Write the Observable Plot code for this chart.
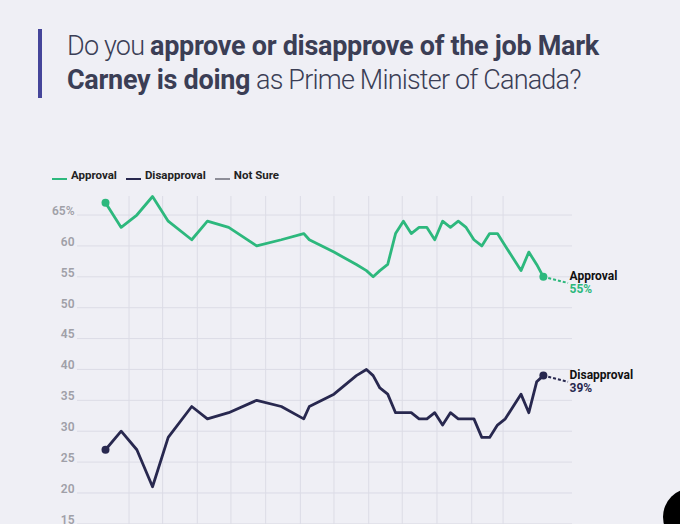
<!DOCTYPE html>
<html><head><meta charset="utf-8">
<script src="https://cdn.jsdelivr.net/npm/d3@7"></script>
<script src="https://cdn.jsdelivr.net/npm/@observablehq/plot@0.6"></script>
<style>
html,body{margin:0;padding:0;background:#efeff5;width:680px;height:524px;overflow:hidden;font-family:Roboto,sans-serif}
#title{position:absolute;left:38px;top:29px;border-left:4px solid #45459a;padding-left:25px;font-size:27px;line-height:34.3px;color:#3b3e55;font-weight:300;white-space:nowrap;letter-spacing:-0.8px}
#title b{font-weight:700;letter-spacing:-0.3px}
#legend{position:absolute;left:52px;top:167px;height:16px;display:flex;align-items:center;font-size:11.5px;font-weight:700;color:#222}
.item{display:flex;align-items:center;margin-right:9px}
.sw{width:15px;height:2.5px;margin-right:4px;margin-top:8px}
#chart{position:absolute;left:0;top:186px}
#fab{position:absolute;left:663px;top:488px;width:58px;height:58px;border-radius:50%;background:#000}
</style></head>
<body>
<div id="title">Do you <b>approve or disapprove of the job Mark<br>Carney is doing</b> as Prime Minister of Canada?</div>
<div id="legend"></div>
<div id="chart"></div>
<div id="fab"></div>
<script>
const dates = ["2025-03-11","2025-03-25","2025-04-08","2025-04-22","2025-05-06","2025-05-27","2025-06-10","2025-06-29","2025-07-24","2025-08-15","2025-09-04","2025-09-09","2025-10-01","2025-10-21","2025-10-30","2025-11-05","2025-11-11","2025-11-18","2025-11-25","2025-12-02","2025-12-09","2025-12-16","2025-12-23","2025-12-30","2026-01-06","2026-01-13","2026-01-20","2026-01-27","2026-02-03","2026-02-10","2026-02-17","2026-02-24","2026-03-03","2026-03-17","2026-03-24","2026-03-31","2026-04-06"];
const approval = [67,63,65,68,64,61,64,63,60,61,62,61,59,57,56,55,56,57,62,64,62,63,63,61,64,63,64,63,61,60,62,62,60,56,59,57,55];
const disapproval = [27,30,27,21,29,34,32,33,35,34,32,34,36,39,40,39,37,36,33,33,33,32,32,33,31,33,32,32,32,29,29,31,32,36,33,38,39];
const seriesNames = ["Approval","Disapproval","Not Sure"];
const seriesColors = ["#2db87d","#28284f","#8e8e98"];
const yTicks = [15,20,25,30,35,40,45,50,55,60,65];
const gridMonths = ["2025-04-01","2025-05-01","2025-06-01","2025-07-01","2025-08-01","2025-09-01","2025-10-01","2025-11-01","2025-12-01","2026-01-01","2026-02-01","2026-03-01"];
const xDomain = ["2025-02-14","2026-05-02"];
const labelDate = "2026-04-28";

// legend
const leg = document.getElementById("legend");
seriesNames.forEach((n,i)=>{
  const it = document.createElement("div"); it.className="item";
  const sw = document.createElement("div"); sw.className="sw"; sw.style.background=seriesColors[i];
  const t = document.createElement("span"); t.textContent=n;
  it.appendChild(sw); it.appendChild(t); leg.appendChild(it);
});

const series = [
  {name:"Approval", values:approval, color:seriesColors[0]},
  {name:"Disapproval", values:disapproval, color:seriesColors[1]}
];
const marks = [
  Plot.gridY(yTicks, {stroke:"#dcdce6", strokeOpacity:1, strokeWidth:1}),
  Plot.ruleX(gridMonths.map(d=>new Date(d)), {stroke:"#dcdce6", strokeWidth:1}),
  Plot.axisY(yTicks, {tickSize:0, tickPadding:3, dy:-4, fill:"#a0a0a8", fontSize:12, fontWeight:600, label:null, tickFormat:d=> d===65 ? "65%" : String(d)})
];
for (const s of series) {
  const data = dates.map((d,i)=>({date:new Date(d), value:s.values[i], series:s.name}));
  const first = data[0], last = data[data.length-1];
  marks.push(
    Plot.line(data, {x:"date", y:"value", stroke:s.color, strokeWidth:2.8, curve:"linear"}),
    Plot.link([last], {x1:"date", y1:"value", x2:()=>new Date(labelDate), y2:d=>d.value-1, stroke:s.color, strokeWidth:2, strokeDasharray:"3,2"}),
    Plot.dot([first,last], {x:"date", y:"value", r:4, fill:s.color}),
    Plot.text([last], {x:()=>new Date(labelDate), y:d=>d.value-1, text:d=>d.series, dx:1.5, dy:-6.5, textAnchor:"start", fontSize:12, fontWeight:700, fill:"#111"}),
    Plot.text([last], {x:()=>new Date(labelDate), y:d=>d.value-1, text:d=>d.value+"%", dx:1.5, dy:6.5, textAnchor:"start", fontSize:12, fontWeight:700, fill:s.color})
  );
}
const chart = Plot.plot({
  width:680, height:430, marginTop:10, marginLeft:77, marginRight:108, marginBottom:0,
  style:{background:"transparent", fontFamily:"Roboto, sans-serif", overflow:"visible"},
  x:{type:"utc", domain:xDomain.map(d=>new Date(d)), axis:null},
  y:{domain:[0,68], axis:null},
  marks
});
document.getElementById("chart").appendChild(chart);
</script>
</body></html>
